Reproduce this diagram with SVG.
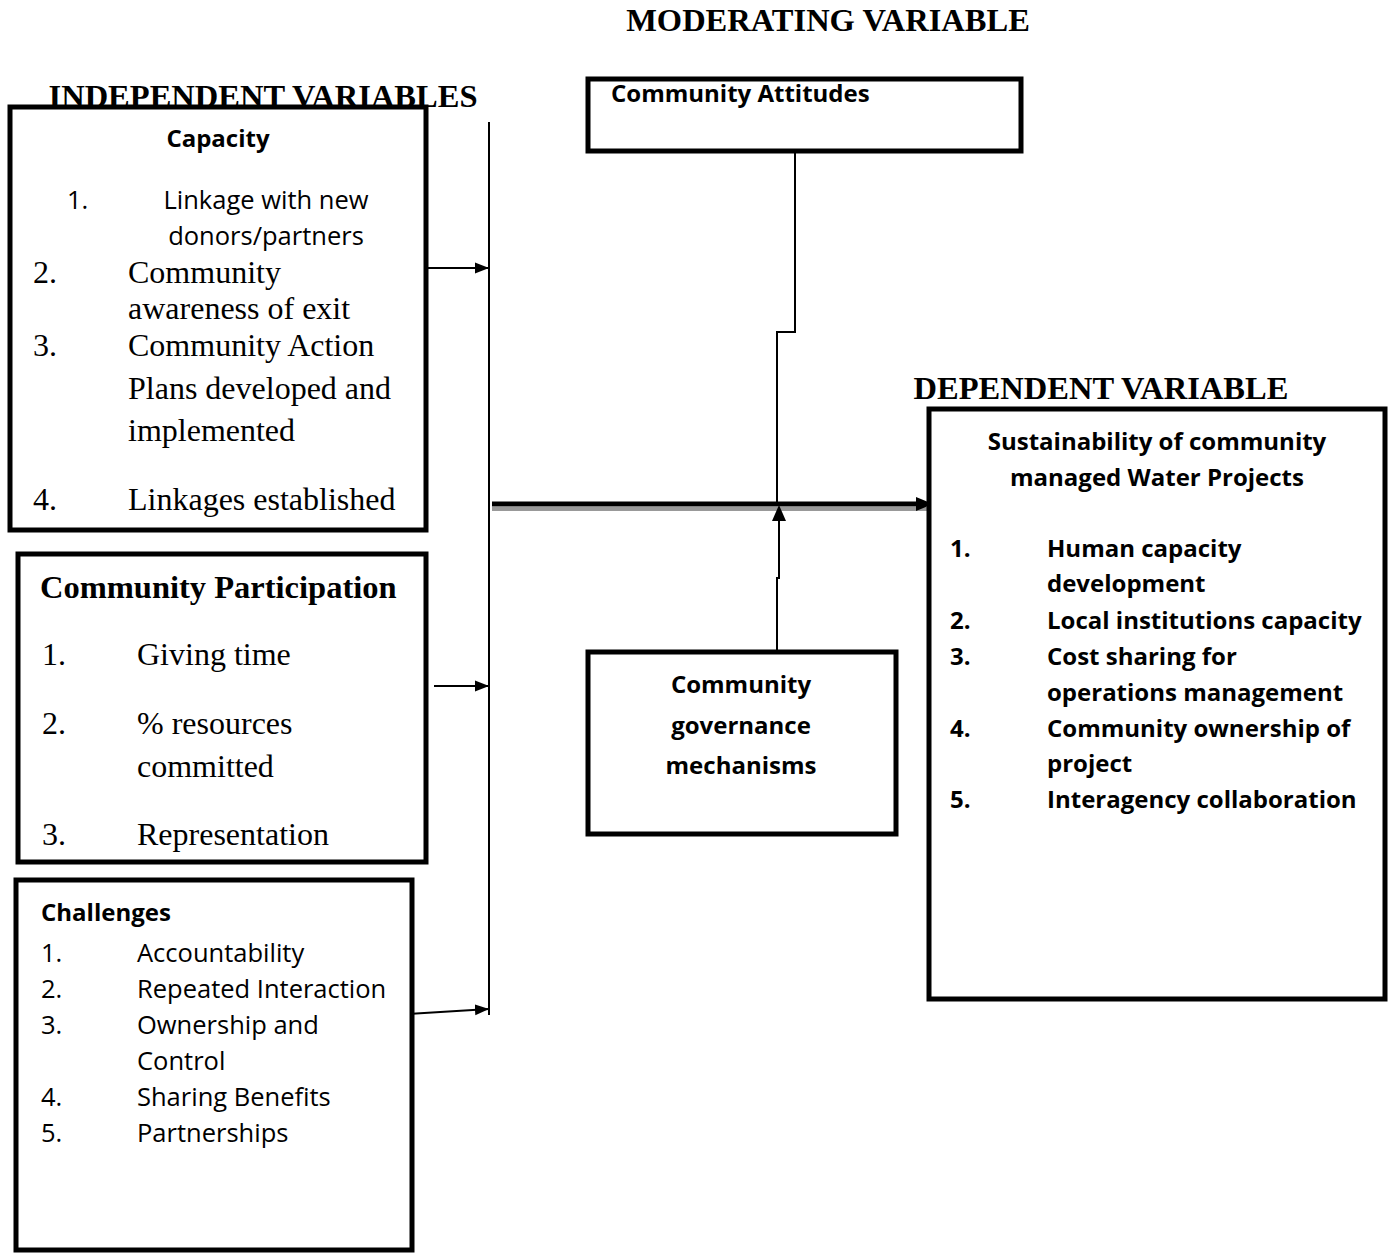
<svg xmlns="http://www.w3.org/2000/svg" width="1392" height="1255" viewBox="0 0 1392 1255">
<style>
.box{fill:#fff;stroke:#000;stroke-width:5}
.hd{font-family:"Liberation Serif",serif;font-weight:bold;font-size:32.5px;fill:#000}
.sb{font-family:"Open Sans","Liberation Sans",sans-serif;font-weight:bold;font-size:24px;fill:#000}
.s{font-family:"Open Sans","Liberation Sans",sans-serif;font-size:25.5px;fill:#000}
.r{font-family:"Liberation Serif",serif;font-size:32px;fill:#000}
.ln{fill:none;stroke:#000;stroke-width:2}
</style>
<defs>
<marker id="ah" markerWidth="14" markerHeight="14" refX="14" refY="7" orient="auto" markerUnits="userSpaceOnUse">
<path d="M0,1.5 L14,7 L0,12.5 Z" fill="#000"/>
</marker>
</defs>
<rect width="1392" height="1255" fill="#fff"/>

<text class="hd" x="828" y="31" text-anchor="middle">MODERATING VARIABLE</text>
<text class="hd" x="263" y="107" text-anchor="middle">INDEPENDENT VARIABLES</text>
<text class="hd" x="1101" y="399" text-anchor="middle">DEPENDENT VARIABLE</text>

<g id="connectors">
<line class="ln" x1="489" y1="122" x2="489" y2="1015"/>
<line class="ln" x1="428" y1="268" x2="489" y2="268" marker-end="url(#ah)"/>
<line class="ln" x1="434" y1="686" x2="489" y2="686" marker-end="url(#ah)"/>
<line class="ln" x1="408" y1="1014" x2="489" y2="1009" marker-end="url(#ah)"/>
<line x1="492" y1="509" x2="930" y2="509" stroke="#999" stroke-width="4"/>
<line x1="492" y1="504" x2="920" y2="504" stroke="#000" stroke-width="5"/>
<path d="M916,497 L933,504 L916,511 Z" fill="#000"/>
<polyline class="ln" points="795,152 795,332 777,332 777,504"/>
<polyline class="ln" points="777,651 777,578 779,578 779,518"/>
<path d="M779,505 L772,521 L786,521 Z" fill="#000"/>
</g>

<g id="capacity">
<rect class="box" x="10" y="107" width="416" height="423"/>
<text class="sb" x="218" y="147" text-anchor="middle">Capacity</text>
<text class="s" x="67" y="209">1.</text>
<text class="s" x="266" y="209" text-anchor="middle">Linkage with new</text>
<text class="s" x="266" y="245" text-anchor="middle">donors/partners</text>
<text class="r" x="33" y="283">2.</text>
<text class="r" x="128" y="283">Community</text>
<text class="r" x="128" y="319">awareness of exit</text>
<text class="r" x="33" y="356">3.</text>
<text class="r" x="128" y="356">Community Action</text>
<text class="r" x="128" y="399">Plans developed and</text>
<text class="r" x="128" y="441">implemented</text>
<text class="r" x="33" y="510">4.</text>
<text class="r" x="128" y="510">Linkages established</text>
</g>

<g id="participation">
<rect class="box" x="18" y="554" width="408" height="308"/>
<text class="hd" x="40" y="598" font-size="33">Community Participation</text>
<text class="r" x="42" y="665">1.</text>
<text class="r" x="137" y="665">Giving time</text>
<text class="r" x="42" y="734">2.</text>
<text class="r" x="137" y="734">% resources</text>
<text class="r" x="137" y="777">committed</text>
<text class="r" x="42" y="845">3.</text>
<text class="r" x="137" y="845">Representation</text>
</g>

<g id="challenges">
<rect class="box" x="16" y="880" width="396" height="370"/>
<text class="sb" x="41" y="921">Challenges</text>
<text class="s" x="41" y="962">1.</text>
<text class="s" x="137" y="962">Accountability</text>
<text class="s" x="41" y="998">2.</text>
<text class="s" x="137" y="998">Repeated Interaction</text>
<text class="s" x="41" y="1034">3.</text>
<text class="s" x="137" y="1034">Ownership and</text>
<text class="s" x="137" y="1070">Control</text>
<text class="s" x="41" y="1106">4.</text>
<text class="s" x="137" y="1106">Sharing Benefits</text>
<text class="s" x="41" y="1142">5.</text>
<text class="s" x="137" y="1142">Partnerships</text>
</g>

<g id="attitudes">
<rect class="box" x="588" y="79" width="433" height="72"/>
<text class="sb" x="611" y="102">Community Attitudes</text>
</g>

<g id="governance">
<rect class="box" x="588" y="652" width="308" height="182"/>
<text class="sb" x="741" y="693" text-anchor="middle">Community</text>
<text class="sb" x="741" y="734" text-anchor="middle">governance</text>
<text class="sb" x="741" y="774" text-anchor="middle">mechanisms</text>
</g>

<g id="dependent">
<rect class="box" x="929" y="409" width="456" height="590"/>
<text class="sb" x="1157" y="450" text-anchor="middle">Sustainability of community</text>
<text class="sb" x="1157" y="486" text-anchor="middle">managed Water Projects</text>
<text class="sb" x="950" y="557">1.</text>
<text class="sb" x="1047" y="557">Human capacity</text>
<text class="sb" x="1047" y="592">development</text>
<text class="sb" x="950" y="629">2.</text>
<text class="sb" x="1047" y="629">Local institutions capacity</text>
<text class="sb" x="950" y="665">3.</text>
<text class="sb" x="1047" y="665">Cost sharing for</text>
<text class="sb" x="1047" y="701">operations management</text>
<text class="sb" x="950" y="737">4.</text>
<text class="sb" x="1047" y="737">Community ownership of</text>
<text class="sb" x="1047" y="772">project</text>
<text class="sb" x="950" y="808">5.</text>
<text class="sb" x="1047" y="808">Interagency collaboration</text>
</g>
</svg>
